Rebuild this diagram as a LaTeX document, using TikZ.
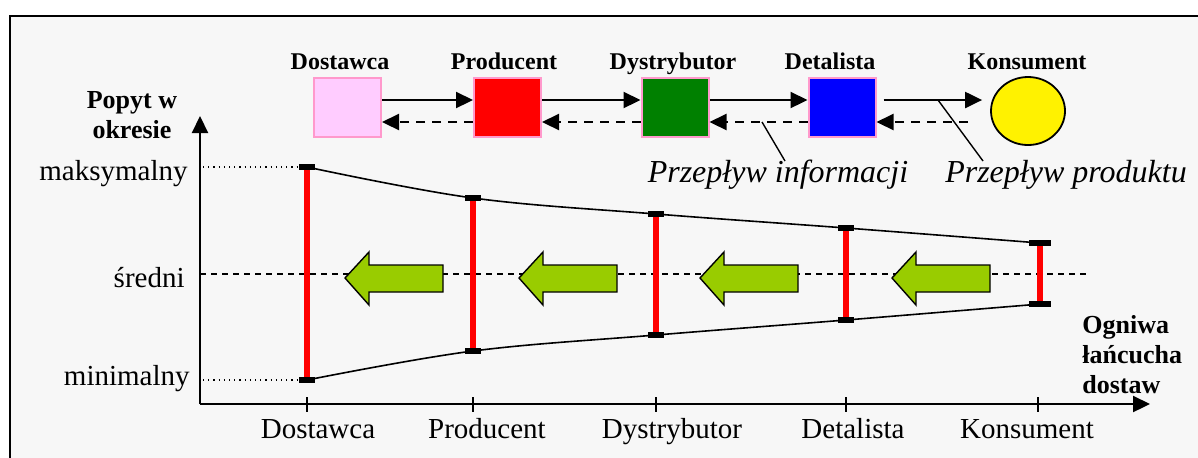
\documentclass[tikz,border=0pt]{standalone}
\usepackage{fontspec}
\setmainfont{Liberation Serif}
\usetikzlibrary{arrows.meta,shapes.geometric}
\definecolor{bgcol}{HTML}{F7F7F7}
\definecolor{pinkfill}{HTML}{FFCCFF}
\definecolor{pinkline}{HTML}{FF99CC}
\definecolor{garrowcol}{HTML}{99CC00}
\definecolor{darkgreen}{HTML}{008000}
\begin{document}
\begin{tikzpicture}[x=0.5pt,y=-0.5pt,
  reg/.style={font=\fontsize{14.5}{17}\selectfont, inner sep=0pt},
  boldlbl/.style={font=\bfseries\fontsize{12}{14}\selectfont, inner sep=0pt, anchor=base},
  axlbl/.style={font=\bfseries\fontsize{13}{15}\selectfont, inner sep=0pt},
  itlbl/.style={font=\itshape\fontsize{16}{19}\selectfont, inner sep=0pt, anchor=base},
  chainbox/.style={rectangle, draw=pinkline, line width=1pt, minimum width=33.5pt, minimum height=29.5pt, inner sep=0pt},
  capbox/.style={rectangle, fill=black, minimum width=8pt, minimum height=2.8pt, inner sep=0pt},
  widecap/.style={capbox, minimum width=11pt},
  flow/.style={line width=1.1pt, -{Triangle[length=8.5pt,width=8pt]}},
  infoflow/.style={flow, dash pattern=on 4.5pt off 3.5pt},
  redbar/.style={red, line width=3.3pt},
  envelope/.style={line width=0.8pt},
  axis/.style={line width=1.1pt},
  leader/.style={line width=0.7pt},
  garrow/.pic={\draw[fill=garrowcol, line width=0.7pt, line join=miter]
     (0,0) -- (24,-26) -- (24,-13) -- (98,-13) -- (98,14) -- (24,14) -- (24,27) -- cycle;}
]
\useasboundingbox (0,0) rectangle (1198,457);
\clip (0,0) rectangle (1198,457);
% frame
\draw[fill=bgcol, line width=1.2pt] (10,16) rectangle (1220,480);

% top row
\node[chainbox, fill=pinkfill] (b1) at (347.5,107.5) {};
\node[chainbox, fill=red] (b2) at (507.5,107.5) {};
\node[chainbox, fill=darkgreen] (b3) at (675,107.5) {};
\node[chainbox, fill=blue] (b4) at (842,107.5) {};
\node[ellipse, draw=black, line width=0.9pt, fill=yellow, minimum width=37pt, minimum height=34pt, inner sep=0pt] (b5) at (1028,111) {};

\node[boldlbl] (t1) at (340,69) {Dostawca};
\node[boldlbl] (t2) at (504,69) {Producent};
\node[boldlbl] (t3) at (673,69) {Dystrybutor};
\node[boldlbl] (t4) at (830,69) {Detalista};
\node[boldlbl] (t5) at (1027,69) {Konsument};

\draw[flow] ([yshift=3.75pt]b1.east) -- ([yshift=3.75pt]b2.west);
\draw[flow] ([yshift=3.75pt]b2.east) -- ([yshift=3.75pt]b3.west);
\draw[flow] ([yshift=3.75pt]b3.east) -- ([yshift=3.75pt]b4.west);
\draw[flow, shorten <=3.5pt, shorten >=4pt] ([yshift=3.75pt]b4.east) -- ([yshift=5.5pt]b5.west);

\draw[infoflow] ([yshift=-7.25pt]b2.west) -- ([yshift=-7.25pt]b1.east);
\draw[infoflow] ([yshift=-7.25pt]b3.west) -- ([yshift=-7.25pt]b2.east);
\draw[infoflow] ([yshift=-7.25pt]b4.west) -- ([yshift=-7.25pt]b3.east);
\draw[infoflow, shorten <=11pt] ([yshift=-5.5pt]b5.west) -- ([yshift=-7.25pt]b4.east);

\node[itlbl] (pi) at (778,182) {Przepływ informacji};
\node[itlbl] (pp) at (1066,182) {Przepływ produktu};
\coordinate (li) at (762,122);
\coordinate (lp) at (938,100);
\draw[leader] (li) -- (785,161);
\draw[leader] (lp) -- (983,161);

% axes
\coordinate (O) at (200,404);
\coordinate (ytop) at (200,116);
\coordinate (xend) at (1150,404);
\draw[axis, -{Triangle[length=8.5pt,width=8pt]}] (O) -- (ytop);
\draw[axis, -{Triangle[length=8.5pt,width=8pt]}] (O) -- (xend);

\node[axlbl, align=center] (ylab) at (132,115) {Popyt w\\okresie};
\node[axlbl, align=left, anchor=west] (xlab) at (1082,355) {Ogniwa\\łańcucha\\dostaw};

\node[reg, anchor=base east] (lmax) at (188,180) {maksymalny};
\node[reg, anchor=base east] (lmid) at (185,287) {średni};
\node[reg, anchor=base east] (lmin) at (190,385) {minimalny};

% mean line
\draw[line width=0.7pt, dash pattern=on 3pt off 2.5pt] (200,274) -- (1088,274);

% ticks and tick labels
\foreach \x in {307,473,656,846,1038}{
  \draw[line width=0.8pt] (\x,397) -- (\x,412);
}
\foreach \x/\n/\t in {318/k1/Dostawca,487/k2/Producent,672/k3/Dystrybutor,853/k4/Detalista,1027/k5/Konsument}{
  \node[reg, anchor=base] (\n) at (\x,438) {\t};
}

% green arrows
\pic at (345,278) {garrow};
\pic at (519,278) {garrow};
\pic at (700,278) {garrow};
\pic at (892,278) {garrow};

% caps
\node[capbox] (u1) at (307,167) {};
\node[capbox] (d1) at (307,380) {};
\node[capbox] (u2) at (473,198) {};
\node[capbox] (d2) at (473,351) {};
\node[capbox] (u3) at (656,214) {};
\node[capbox] (d3) at (656,335) {};
\node[capbox] (u4) at (846,228) {};
\node[capbox] (d4) at (846,320) {};
\node[widecap] (u5) at (1040,243) {};
\node[widecap] (d5) at (1040,304) {};

% dotted guides
\draw[dotted, line width=0.6pt] (203,167) -- (u1.west);
\draw[dotted, line width=0.6pt] (203,380) -- (d1.west);

% envelope
\draw[envelope] plot[smooth, tension=0.6] coordinates {(u1.center) (u2.center) (u3.center) (u4.center) (u5.center)};
\draw[envelope] plot[smooth, tension=0.6] coordinates {(d1.center) (d2.center) (d3.center) (d4.center) (d5.center)};

% red bars
\foreach \i in {1,...,5}{
  \draw[redbar] (u\i.south) -- (d\i.north);
}
\end{tikzpicture}
\end{document}
